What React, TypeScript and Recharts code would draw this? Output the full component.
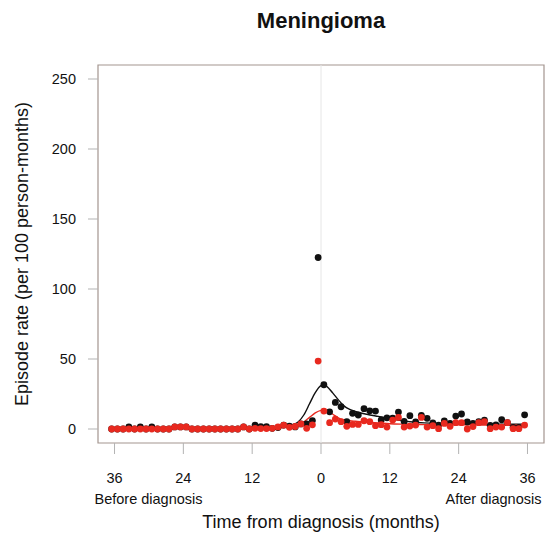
import {
  ComposedChart,
  Customized,
  Line,
  ReferenceArea,
  ReferenceLine,
  Scatter,
  XAxis,
  YAxis,
} from 'recharts';

// monthly bins, plotted at the middle of each month
const months = [
  -36.5, -35.5, -34.5, -33.5, -32.5, -31.5, -30.5, -29.5, -28.5, -27.5, -26.5, -25.5, -24.5,
  -23.5, -22.5, -21.5, -20.5, -19.5, -18.5, -17.5, -16.5, -15.5, -14.5, -13.5, -12.5, -11.5,
  -10.5, -9.5, -8.5, -7.5, -6.5, -5.5, -4.5, -3.5, -2.5, -1.5, -0.5,
  0.5, 1.5, 2.5, 3.5, 4.5, 5.5, 6.5, 7.5, 8.5, 9.5, 10.5, 11.5, 12.5, 13.5, 14.5, 15.5, 16.5,
  17.5, 18.5, 19.5, 20.5, 21.5, 22.5, 23.5, 24.5, 25.5, 26.5, 27.5, 28.5, 29.5, 30.5, 31.5,
  32.5, 33.5, 34.5, 35.5,
];

// all episodes (black)
const allRate = [
  0, 0, 0, 1.5, 0, 1.5, 0, 1.5, 0, 0, 0, 1.5, 1.5,
  1.5, 0, 0, 0, 0, 0, 0, 0, 0, 0, 1.5, 0, 2.8,
  1.6, 1.6, 0.5, 1, 2.8, 2, 1.5, 3.6, 3.6, 6, 122.5,
  31.6, 12.3, 19, 15.9, 5.2, 11.2, 10, 14.5, 13, 12.8, 6.5, 8, 7.8, 12.1, 5.4, 9.5, 5,
  9.8, 7.6, 4.3, 2.8, 5.7, 4, 9.2, 10.7, 5, 4, 5.2, 6.3, 2.6, 3, 6.6,
  4.5, 1.2, 1.2, 10.1,
];

// first episodes (red)
const firstRate = [
  0, 0, 0, 0, 0, 0, 0, 0, 0, 0, 0, 1.5, 1.5,
  1.5, 0, 0, 0, 0, 0, 0, 0, 0, 0, 1.5, 0, 0.5,
  0.3, 0.3, 0.5, 1.5, 2.8, 1.2, 1.8, 3.6, 0.5, 3, 48.5,
  12.8, 4.5, 7.1, 5.2, 1.9, 3.3, 3.3, 5.9, 5.2, 2.4, 3.1, 1.4, 6.4, 8.3, 1.4, 2.1, 2.8,
  8.3, 1.4, 2.4, 0.2, 4, 1.9, 4.5, 4.5, 0, 1.7, 4.5, 5.2, 0.2, 1.4, 1.4,
  4.5, 0.2, 0.2, 2.8,
];

// smoothed trends
const fitX = [
  -36.5, -32, -28, -24, -20, -16, -12, -9, -7, -6, -5, -4, -3, -2, -1, 0, 0.5, 1, 2, 3, 4, 5,
  6, 8, 10, 12, 14, 16, 18, 20, 24, 28, 32, 35.5,
];
const allFit = [
  0.8, 0.8, 0.7, 0.6, 0.5, 0.6, 1, 1.3, 1.6, 2, 3, 5, 10, 18, 26, 31, 31.5, 30.5, 26, 21, 16.5,
  14, 12.5, 10.5, 9, 7.5, 6, 5, 4.4, 4, 3.6, 3.5, 3.5, 3.5,
];
const firstFit = [
  0.3, 0.3, 0.3, 0.3, 0.3, 0.3, 0.5, 0.7, 0.9, 1.2, 1.8, 3, 5, 8.3, 11.5, 13.3, 13.5, 13, 10.7,
  8, 6.5, 6, 5.5, 4.8, 4.3, 3.8, 3.5, 3.3, 3.1, 3, 3, 2.9, 2.9, 2.9,
];

const xTicks = [-36, -24, -12, 0, 12, 24, 36];
const yTicks = [0, 50, 100, 150, 200, 250];

const FONT = '"Liberation Sans", Arial, Helvetica, sans-serif';
const BLACK = '#111111';
const RED = '#e8291f';
const FRAME = '#a3958f';
const TICK = '#b3b3b3';

const allPts = months.map((x, i) => ({ x, y: allRate[i] }));
const firstPts = months.map((x, i) => ({ x, y: firstRate[i] }));
const allLine = fitX.map((x, i) => ({ x, y: allFit[i] }));
const firstLine = fitX.map((x, i) => ({ x, y: firstFit[i] }));

const dot = (fill: string) => (p: any) => <circle cx={p.cx} cy={p.cy} r={3.4} fill={fill} />;

function XTick({ x, y, payload }: any) {
  const v = payload.value;
  return (
    <g fontFamily={FONT} fontSize={14.5} fill={BLACK}>
      <text x={x} y={y} dy={27} textAnchor="middle">
        {Math.abs(v)}
      </text>
      {v === -36 && (
        <text x={x + 34} y={y} dy={48} textAnchor="middle">
          Before diagnosis
        </text>
      )}
      {v === 36 && (
        <text x={x - 34} y={y} dy={48} textAnchor="middle">
          After diagnosis
        </text>
      )}
    </g>
  );
}

function Title() {
  return (
    <text x={321} y={28} textAnchor="middle" fontFamily={FONT} fontSize={22} fontWeight="bold" fill={BLACK}>
      Meningioma
    </text>
  );
}

export default function App() {
  return (
    <div style={{ position: 'absolute', left: 0, top: 0, background: '#fff' }}>
      <ComposedChart width={546} height={537} margin={{ top: 65, right: 2, bottom: 0, left: 0 }}>
        <XAxis
          type="number"
          dataKey="x"
          domain={[-38.88, 38.88]}
          ticks={xTicks}
          allowDataOverflow
          axisLine={false}
          tickSize={11}
          tickLine={{ stroke: TICK }}
          tick={<XTick />}
          height={94}
          label={{
            value: 'Time from diagnosis (months)',
            position: 'insideBottom',
            offset: 9,
            style: { fontFamily: FONT, fontSize: 18, fill: BLACK },
          }}
        />
        <YAxis
          type="number"
          domain={[-10, 260]}
          ticks={yTicks}
          allowDataOverflow
          axisLine={false}
          tickSize={10}
          tickMargin={12}
          tickLine={{ stroke: TICK }}
          tick={{ fontFamily: FONT, fontSize: 14.5, fill: BLACK }}
          width={98}
          label={{
            value: 'Episode rate (per 100 person-months)',
            angle: -90,
            position: 'insideLeft',
            offset: 22,
            style: { fontFamily: FONT, fontSize: 18, fill: BLACK, textAnchor: 'middle' },
          }}
        />
        <ReferenceLine x={0} stroke="#e6e6e6" strokeWidth={1} />
        <Scatter data={allPts} dataKey="y" shape={dot(BLACK)} isAnimationActive={false} />
        <Scatter data={firstPts} dataKey="y" shape={dot(RED)} isAnimationActive={false} />
        <Line
          data={allLine}
          dataKey="y"
          type="monotone"
          stroke={BLACK}
          strokeWidth={1.4}
          dot={false}
          activeDot={false}
          isAnimationActive={false}
        />
        <Line
          data={firstLine}
          dataKey="y"
          type="monotone"
          stroke={RED}
          strokeWidth={1.4}
          dot={false}
          activeDot={false}
          isAnimationActive={false}
        />
        <ReferenceArea
          x1={-38.88}
          x2={38.88}
          y1={-10}
          y2={260}
          fill="none"
          stroke={FRAME}
          strokeWidth={1.2}
          ifOverflow="visible"
        />
        <Customized component={Title} />
      </ComposedChart>
    </div>
  );
}
